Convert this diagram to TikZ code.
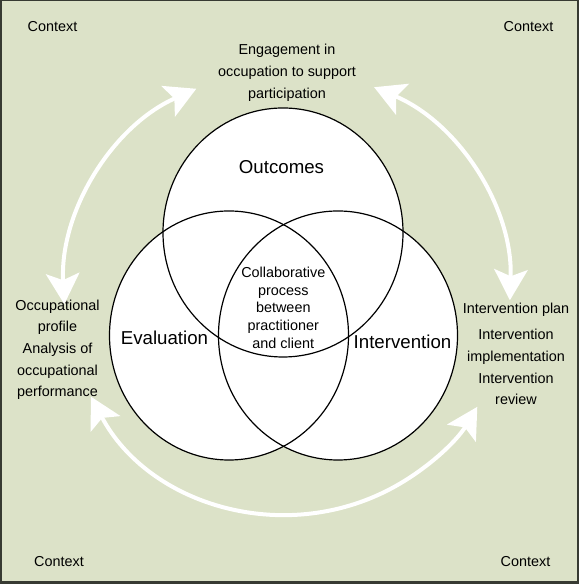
\documentclass[tikz,border=0pt]{standalone}
\usepackage{fontspec}
\setmainfont{Liberation Sans}
\usetikzlibrary{arrows.meta}
\definecolor{bgsage}{RGB}{220,226,200}
\definecolor{framegray}{RGB}{55,58,50}
\begin{document}
\begin{tikzpicture}[x=0.75pt,y=0.75pt,
  txt/.style={font=\fontsize{10.8}{16.3}\selectfont, align=center, anchor=base, inner sep=0pt},
  bigtxt/.style={font=\fontsize{14}{17}\selectfont, anchor=base, inner sep=0pt},
  vennline/.style={draw=black, line width=0.9pt},
  whitearrow/.style={draw=white, line width=3pt,
    {Stealth[length=23pt,width=25pt,inset=5pt]}-{Stealth[length=23pt,width=25pt,inset=5pt]}}
]
\useasboundingbox (0,0) rectangle (579,584);
% background and frame
\fill[bgsage] (0,0) rectangle (579,584);
\draw[framegray, line width=1.2pt] (0.8,0) -- (0.8,584);
\draw[framegray, line width=0.9pt] (0,583.4) -- (579,583.4);
\draw[framegray, line width=1.5pt] (578,0) -- (578,584);
\draw[framegray, line width=2.2pt] (0,1.5) -- (579,1.5);

% Venn circles
\coordinate (cTop) at (283,351.5);
\coordinate (cLeft) at (229,248.5);
\coordinate (cRight) at (338,248.5);
\fill[white] (cTop) ellipse[x radius=120, y radius=124.5];
\fill[white] (cLeft) ellipse[x radius=119.5, y radius=124.5];
\fill[white] (cRight) ellipse[x radius=119.5, y radius=124.5];
\draw[vennline] (cTop) ellipse[x radius=120, y radius=124.5];
\draw[vennline] (cLeft) ellipse[x radius=119.5, y radius=124.5];
\draw[vennline] (cRight) ellipse[x radius=119.5, y radius=124.5];

% white cycle arrows
\coordinate (cBig) at (287,291.5);
\draw[whitearrow] ([shift={(114:223)}]cBig) arc[start angle=114, end angle=183, radius=223];
\draw[whitearrow] ([shift={(67:223)}]cBig) arc[start angle=67, end angle=-2, radius=223];
\draw[whitearrow] ([shift={(208:222)}]cBig) arc[start angle=208, end angle=329, radius=222];

% texts
\node[txt] (ctl) at (52.5,552) {Context};
\node[txt] (ctr) at (528.5,552) {Context};
\node[txt] (cbl) at (59,17) {Context};
\node[txt] (cbr) at (525.5,17) {Context};
\node[txt, font=\fontsize{10.8}{16.5}\selectfont] (eng) at (287,485) {Engagement in\\occupation to support\\participation};
\node[bigtxt] (out) at (281.5,410) {Outcomes};
\node[bigtxt] (eva) at (164.5,239) {Evaluation};
\node[bigtxt] (int) at (402.5,235) {Intervention};
\node[txt, font=\fontsize{10.8}{13.3}\selectfont] (col) at (283.3,235.7) {Collaborative\\process\\between\\practitioner\\and client};
\node[txt] (occ) at (57.5,187) {Occupational\\profile\\Analysis of\\occupational\\performance};
\node[txt] (ip) at (516,270) {Intervention plan};
\node[txt] (ii) at (516,222.3) {Intervention\\implementation};
\node[txt] (ir) at (516,179) {Intervention\\review};
\end{tikzpicture}
\end{document}
